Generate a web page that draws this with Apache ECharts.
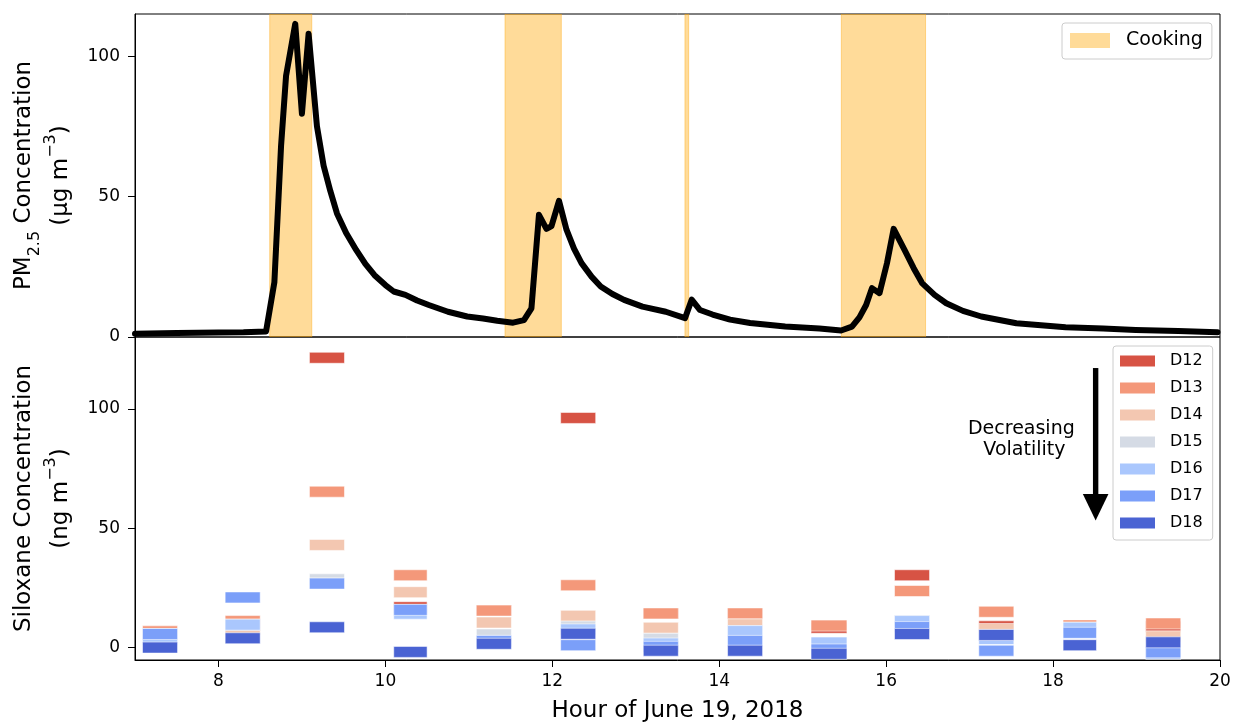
<!DOCTYPE html>
<html><head><meta charset="utf-8">
<script src="https://cdn.jsdelivr.net/npm/echarts@6/dist/echarts.min.js"></script>
<style>html,body{margin:0;padding:0;background:#fff}#c{width:1238px;height:724px}</style>
</head><body><div id="c"></div>
<script>
// ---------- data ----------
const pmHours = [7.00, 7.50, 8.00, 8.30, 8.57, 8.67, 8.75, 8.81, 8.92, 9.00, 9.08, 9.18, 9.26, 9.34, 9.42, 9.53, 9.65, 9.76, 9.87, 10.00, 10.10, 10.24, 10.38, 10.52, 10.75, 10.98, 11.17, 11.34, 11.53, 11.66, 11.75, 11.84, 11.93, 11.99, 12.08, 12.17, 12.26, 12.35, 12.47, 12.58, 12.72, 12.86, 13.08, 13.36, 13.59, 13.67, 13.77, 13.92, 14.13, 14.37, 14.79, 15.20, 15.46, 15.59, 15.68, 15.76, 15.83, 15.92, 16.01, 16.09, 16.22, 16.33, 16.43, 16.58, 16.72, 16.92, 17.14, 17.56, 18.15, 18.60, 18.99, 19.50, 19.97];
const pmValues = [1.2, 1.4, 1.6, 1.7, 2.0, 19.5, 68, 93, 111.5, 79.5, 108, 75, 61, 52, 44, 37, 31, 26, 22, 18.5, 16.2, 15.0, 13.0, 11.4, 9.0, 7.3, 6.6, 5.8, 5.1, 6.0, 10.2, 43.5, 38.5, 39.5, 48.5, 38.2, 31.5, 26.3, 21.5, 18.0, 15.3, 13.2, 10.8, 9.0, 6.7, 13.3, 9.6, 8.0, 6.2, 5.0, 3.7, 3.0, 2.3, 3.7, 7.0, 11.4, 17.4, 15.6, 26.3, 38.5, 31, 24.5, 19.2, 15.0, 12.0, 9.3, 7.3, 4.9, 3.5, 3.0, 2.5, 2.1, 1.7];

const cookStart = [8.614, 11.433, 13.589, 15.463];
const cookEnd   = [9.118, 12.108, 13.634, 16.472];

const sampleStart = [7.09, 8.08, 9.09, 10.10, 11.09, 12.10, 13.09, 14.10, 15.10, 16.10, 17.11, 18.12, 19.11];
const sampleEnd   = [7.51, 8.50, 9.51, 10.50, 11.51, 12.52, 13.51, 14.52, 15.53, 16.52, 17.53, 18.52, 19.53];

const D12 = [5.7, 9.6, 121.4, 16.9, 15.5, 96.2, 14.3, 14.3, 8.3, 30.3, 8.9, 9.3, 8.7];
const D13 = [6.8, 11.1, 65.3, 30.3, 15.5, 26.1, 14.3, 14.3, 9.2, 23.7, 15.0, 9.3, 10.1];
const D14 = [5.7, 7.5, 43.0, 23.2, 10.5, 13.3, 8.3, 9.7, 2.1, 11.1, 7.8, 8.3, 4.7];
const D15 = [5.7, 9.6, 28.6, 15.8, 5.5, 8.8, 3.7, 6.9, 2.1, 11.1, 5.3, 8.3, -2.0];
const D16 = [3.4, 9.6, 26.8, 14.2, 2.8, 7.6, 1.7, 6.9, 2.1, 11.1, 3.6, 8.3, -2.6];
const D17 = [5.7, 21.0, 26.8, 15.8, 2.8, 1.0, 0.3, 2.8, -0.8, 8.6, -1.3, 6.2, -2.0];
const D18 = [0.0, 3.9, 8.5, -1.8, 1.6, 5.8, -1.3, -1.3, -2.6, 5.7, 5.3, 1.0, 2.2];

const sxNames = ['D12', 'D13', 'D14', 'D15', 'D16', 'D17', 'D18'];
const sxValues = [D12, D13, D14, D15, D16, D17, D18];

const xTicks = [8, 10, 12, 14, 16, 18, 20];
const yTicksPM = [0, 50, 100];
const yTicksSx = [0, 50, 100];

// ---------- styles ----------
const FONT = "'DejaVu Sans', sans-serif";
const sxColors = ['#d75344', '#f4987a', '#f3c7b1', '#d5dbe5', '#aac7fd', '#7b9ff9', '#4a63d3'];
const cookColor = 'rgba(255,165,0,0.4)';
const arrowX = 18.51, arrowTop = 117.1, arrowHeadBase = 64.3, arrowTip = 53.2;
const noteX = 17.62, noteY = 87.2;

const chart = echarts.init(document.getElementById('c'), null, {renderer: 'canvas'});

const nameRich = {
  a: {fontSize: 23, lineHeight: 37, fontFamily: FONT, color: '#000'},
  sub: {fontSize: 16, lineHeight: 22, verticalAlign: 'bottom', fontFamily: FONT, color: '#000'},
  sup: {fontSize: 16, lineHeight: 24, verticalAlign: 'top', fontFamily: FONT, color: '#000'}
};

const sxSeries = sxNames.map((nm, k) => ({
  name: nm,
  type: 'custom',
  xAxisIndex: 1, yAxisIndex: 1,
  clip: true,
  itemStyle: {color: sxColors[k]},
  encode: {x: [0, 1], y: 2},
  data: sampleStart.map((s, i) => [s, sampleEnd[i], sxValues[k][i]]),
  z: 3 + k,
  renderItem: (params, api) => {
    const p1 = api.coord([api.value(0), api.value(2)]);
    const p2 = api.coord([api.value(1), api.value(2)]);
    return {
      type: 'rect',
      shape: {x: p1[0], y: p1[1] - 5.5, width: p2[0] - p1[0], height: 11},
      style: {fill: sxColors[k], stroke: 'rgba(255,255,255,0.55)', lineWidth: 1}
    };
  }
}));

const option = {
  animation: false,
  textStyle: {fontFamily: FONT},
  grid: [
    {left: 135, right: 18, top: 14, height: 323, show: true, borderColor: '#000', borderWidth: 1},
    {left: 135, right: 18, top: 337, height: 324.7, show: true, borderColor: '#000', borderWidth: 1}
  ],
  xAxis: [
    {gridIndex: 0, type: 'value', min: 7, max: 20,
     axisLine: {show: false, onZero: false}, axisTick: {show: false}, axisLabel: {show: false}, splitLine: {show: false}},
    {gridIndex: 1, type: 'value', min: 7, max: 20,
     axisLine: {show: true, onZero: false, lineStyle: {color: '#000', width: 1}},
     axisTick: {show: true, customValues: xTicks, length: 7, lineStyle: {color: '#000', width: 1}},
     axisLabel: {customValues: xTicks, fontSize: 17, color: '#000', margin: 13, fontFamily: FONT},
     splitLine: {show: false},
     name: 'Hour of June 19, 2018', nameLocation: 'middle', nameGap: 40,
     nameTextStyle: {fontSize: 23, color: '#000', fontFamily: FONT}}
  ],
  yAxis: [
    {gridIndex: 0, type: 'value', min: 0, max: 115,
     axisLine: {show: true, onZero: false, lineStyle: {color: '#000', width: 1}},
     axisTick: {show: true, customValues: yTicksPM, length: 7, lineStyle: {color: '#000', width: 1}},
     axisLabel: {customValues: yTicksPM, fontSize: 17, color: '#000', margin: 15, fontFamily: FONT},
     splitLine: {show: false},
     name: '{a|PM}{sub|2.5}{a| Concentration}\n{a|(µg m}{sup|−3}{a|)}',
     nameLocation: 'middle', nameRotate: 90, nameGap: 55,
     nameTextStyle: {rich: nameRich, align: 'center'}},
    {gridIndex: 1, type: 'value', min: -5.2, max: 130.1,
     axisLine: {show: true, onZero: false, lineStyle: {color: '#000', width: 1}},
     axisTick: {show: true, customValues: yTicksSx, length: 7, lineStyle: {color: '#000', width: 1}},
     axisLabel: {customValues: yTicksSx, fontSize: 17, color: '#000', margin: 15, fontFamily: FONT},
     splitLine: {show: false},
     name: '{a|Siloxane Concentration}\n{a|(ng m}{sup|−3}{a|)}',
     nameLocation: 'middle', nameRotate: 90, nameGap: 55,
     nameTextStyle: {rich: nameRich, align: 'center'}}
  ],
  legend: [
    {data: [{name: 'Cooking', icon: 'rect'}], orient: 'vertical', left: 1062, top: 23,
     itemWidth: 40, itemHeight: 15, padding: [8, 9, 9, 8], selectedMode: false,
     itemStyle: {borderWidth: 0},
     textStyle: {fontSize: 19, color: '#000', fontFamily: FONT, padding: [0, 0, 0, 11]},
     borderColor: '#cccccc', borderWidth: 1, borderRadius: 3, backgroundColor: 'rgba(255,255,255,0.8)'},
    {data: sxNames.map(n => ({name: n, icon: 'rect'})), orient: 'vertical', left: 1113, top: 346,
     itemWidth: 35, itemHeight: 11, itemGap: 11, padding: [7, 10, 9, 7], selectedMode: false,
     itemStyle: {borderWidth: 0},
     textStyle: {fontSize: 16, color: '#000', fontFamily: FONT, padding: [0, 0, 0, 10]},
     borderColor: '#cccccc', borderWidth: 1, borderRadius: 3, backgroundColor: 'rgba(255,255,255,0.8)'}
  ],
  series: [
    {
      name: 'Cooking', type: 'custom', xAxisIndex: 0, yAxisIndex: 0, clip: true,
      itemStyle: {color: cookColor},
      encode: {x: [0, 1]},
      data: cookStart.map((s, i) => [s, cookEnd[i]]),
      z: 1,
      renderItem: (params, api) => {
        const p1 = api.coord([api.value(0), 115]);
        const p2 = api.coord([api.value(1), 0]);
        return {type: 'rect', shape: {x: p1[0], y: p1[1], width: p2[0] - p1[0], height: p2[1] - p1[1]},
                style: {fill: cookColor, stroke: cookColor, lineWidth: 1}};
      }
    },
    {
      name: 'PM2.5', type: 'line', xAxisIndex: 0, yAxisIndex: 0,
      data: pmHours.map((h, i) => [h, pmValues[i]]),
      symbol: 'none', smooth: false, z: 2,
      lineStyle: {color: '#000', width: 6, join: 'round', cap: 'round'}
    },
    ...sxSeries,
    {
      name: 'annotation', type: 'custom', xAxisIndex: 1, yAxisIndex: 1, z: 20,
      data: [[arrowX, arrowTop]],
      renderItem: (params, api) => {
        const top = api.coord([arrowX, arrowTop]);
        const base = api.coord([arrowX, arrowHeadBase]);
        const tip = api.coord([arrowX, arrowTip]);
        const txt = api.coord([noteX, noteY]);
        return {type: 'group', children: [
          {type: 'rect', shape: {x: top[0] - 2.7, y: top[1], width: 5.4, height: base[1] - top[1] + 1}, style: {fill: '#000'}},
          {type: 'polygon', shape: {points: [[base[0] - 12.8, base[1]], [base[0] + 12.8, base[1]], [tip[0], tip[1]]]}, style: {fill: '#000'}},
          {type: 'text', x: txt[0], y: txt[1], style: {text: 'Decreasing\n Volatility', fontSize: 19, fontFamily: FONT, fill: '#000', align: 'center', verticalAlign: 'middle', lineHeight: 21}}
        ]};
      }
    }
  ]
};
chart.setOption(option);
</script>
</body></html>
